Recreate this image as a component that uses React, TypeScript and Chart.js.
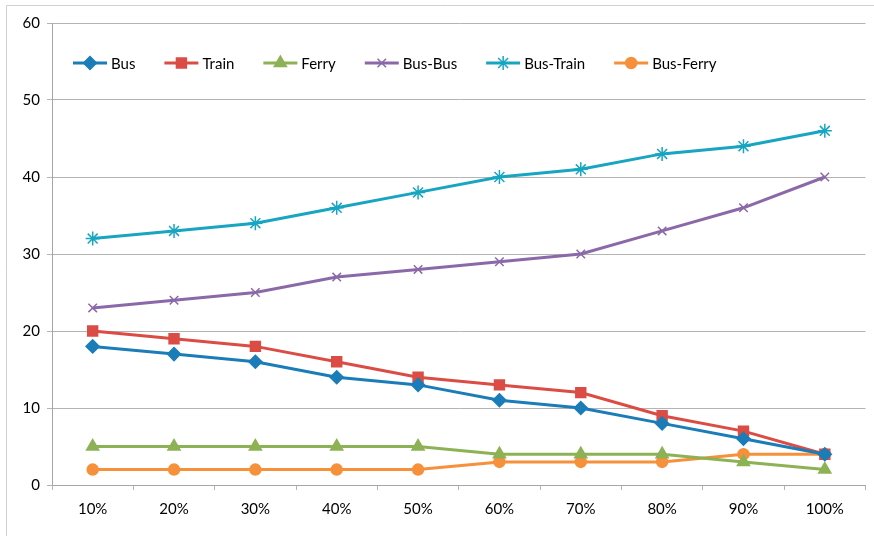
import React, { useEffect, useRef } from "react";
import { Chart, registerables } from "chart.js";
import { drawPoint } from "chart.js/helpers";

Chart.register(...registerables);

const categories = ["10%", "20%", "30%", "40%", "50%", "60%", "70%", "80%", "90%", "100%"];
const seriesNames = ["Bus", "Train", "Ferry", "Bus-Bus", "Bus-Train", "Bus-Ferry"];
const busValues = [18, 17, 16, 14, 13, 11, 10, 8, 6, 4];
const trainValues = [20, 19, 18, 16, 14, 13, 12, 9, 7, 4];
const ferryValues = [5, 5, 5, 5, 5, 4, 4, 4, 3, 2];
const busBusValues = [23, 24, 25, 27, 28, 29, 30, 33, 36, 40];
const busTrainValues = [32, 33, 34, 36, 38, 40, 41, 43, 44, 46];
const busFerryValues = [2, 2, 2, 2, 2, 3, 3, 3, 4, 4];
const yTicks = [0, 10, 20, 30, 40, 50, 60];

const colors = ["#1B7DB8", "#DB4C45", "#8DB255", "#8B69A8", "#17A5C1", "#F7903A"];
const styles: any[] = ["rectRot", "rect", "triangle", "crossRot", "star", "circle"];
const radii = [6.5, 7, 7, 6, 7, 5.5];
const FONT = "Lato, 'Open Sans', sans-serif";
const FONT_SIZE = 15;

const legendPlugin = {
  id: "customLegend",
  afterDraw(chart: any) {
    const ctx = chart.ctx;
    ctx.save();
    ctx.font = `${FONT_SIZE}px ${FONT}`;
    ctx.textBaseline = "middle";
    let x = 73;
    const y = 63;
    chart.data.datasets.forEach((ds: any) => {
      ctx.strokeStyle = ds.borderColor;
      ctx.lineWidth = 3;
      ctx.beginPath();
      ctx.moveTo(x, y);
      ctx.lineTo(x + 34, y);
      ctx.stroke();
      ctx.fillStyle = ds.borderColor;
      ctx.lineWidth = 1.5;
      drawPoint(ctx, { pointStyle: ds.pointStyle, radius: ds.pointRadius, rotation: 0, borderWidth: 1.5 } as any, x + 17, y);
      ctx.fillStyle = "#000";
      ctx.fillText(ds.label, x + 38, y + 1);
      x += 38 + ctx.measureText(ds.label).width + 29;
    });
    ctx.restore();
  },
};

const framePlugin = {
  id: "frame",
  beforeDraw(chart: any) {
    const ctx = chart.ctx;
    ctx.save();
    ctx.fillStyle = "#fff";
    ctx.fillRect(0, 0, chart.width, chart.height);
    ctx.strokeStyle = "#D0D0D0";
    ctx.lineWidth = 1;
    ctx.beginPath();
    ctx.moveTo(6.5, chart.height + 5);
    ctx.lineTo(6.5, 5.5);
    ctx.lineTo(chart.width + 5, 5.5);
    ctx.stroke();
    ctx.restore();
  },
};

export default function App() {
  const ref = useRef<HTMLCanvasElement>(null);
  useEffect(() => {
    document.body.style.margin = "0";
    const values = [busValues, trainValues, ferryValues, busBusValues, busTrainValues, busFerryValues];
    const chart = new Chart(ref.current!, {
      type: "line",
      data: {
        labels: categories,
        datasets: seriesNames.map((name, i) => ({
          label: name,
          data: values[i],
          borderColor: colors[i],
          backgroundColor: colors[i],
          borderWidth: 3,
          pointStyle: styles[i],
          pointRadius: radii[i],
          pointBorderWidth: 1.5,
          pointBorderColor: colors[i],
          pointBackgroundColor: colors[i],
          tension: 0,
        })),
      },
      options: {
        animation: false,
        responsive: false,
        layout: { padding: { left: 0, right: 8, top: 23, bottom: 10 } },
        plugins: { legend: { display: false }, tooltip: { enabled: false } },
        scales: {
          x: {
            offset: true,
            grid: { display: true, drawOnChartArea: false, drawTicks: true, tickLength: 5, offset: true, color: "#B4B4B4" },
            border: { color: "#A6A6A6", width: 1 },
            ticks: { color: "#000", font: { family: FONT, size: FONT_SIZE }, padding: 10 },
            afterFit: (s: any) => { s.height = 41; },
          },
          y: {
            min: 0,
            max: 60,
            afterBuildTicks: (s: any) => { s.ticks = yTicks.map((v) => ({ value: v })); },
            grid: { color: "#B4B4B4", tickLength: 5, drawTicks: true },
            border: { color: "#A6A6A6", width: 1 },
            ticks: { color: "#000", font: { family: FONT, size: FONT_SIZE }, padding: 7 },
            afterFit: (s: any) => { s.width = 52; },
          },
        },
      },
      plugins: [framePlugin, legendPlugin],
    });
    return () => chart.destroy();
  }, []);
  return (
    <div style={{ width: 874, height: 536 }}>
      <canvas ref={ref} width={874} height={536} />
    </div>
  );
}
